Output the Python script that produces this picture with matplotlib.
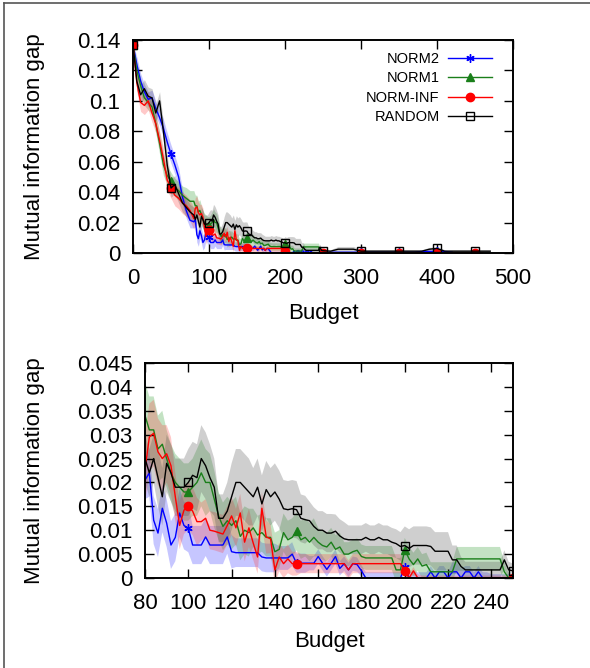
import numpy as np
import matplotlib
matplotlib.use("Agg")
import matplotlib.pyplot as plt
from matplotlib.lines import Line2D

plt.rcParams['font.family'] = ['Liberation Sans', 'DejaVu Sans']

# ---------------- data ----------------
budget_a = [0, 5, 10, 15, 20, 25, 30, 35, 40, 45, 50, 55, 60, 65, 70, 75]
budget_b = list(range(80, 251, 2))
budget_c = list(range(260, 471, 10))

# NORM2 (blue)
norm2_a = [0.137, 0.124, 0.113, 0.106, 0.101, 0.102, 0.095, 0.089, 0.082, 0.073, 0.065, 0.058, 0.050, 0.037, 0.028, 0.0215]
norm2_b = [0.0205, 0.022, 0.0121, 0.0094, 0.0146, 0.0115, 0.0069, 0.0085, 0.0136, 0.011,
           0.0104, 0.0069, 0.0069, 0.0069, 0.0086, 0.0069, 0.0069, 0.0069, 0.0069, 0.0086,
           0.0055, 0.0053, 0.0053, 0.0053, 0.0053, 0.0053, 0.0053, 0.0044, 0.0042, 0.0042,
           0.0042, 0.0042, 0.0042, 0.0042, 0.005, 0.0031, 0.0031, 0.0031, 0.0031, 0.0031,
           0.0045, 0.0031, 0.0018, 0.0031, 0.0045, 0.002, 0.003, 0.0017, 0.003, 0.0028,
           0.0015, 0.0, 0.0, 0.0, 0.0, 0.0, 0.0, 0.0, 0.0, 0.0,
           0.0023, 0.0, 0.0, 0.0, 0.0, 0.0, 0.0013, 0.0, 0.0013, 0.0013,
           0.0, 0.0013, 0.0013, 0.0, 0.0013, 0.0013, 0.0, 0.0013, 0.0, 0.0,
           0.0, 0.0, 0.0, 0.0, 0.0, 0.0]
norm2_c = [0.0005, 0.0005, 0.0005, 0.0005, 0.0005, 0.0005, 0.0005, 0.0005, 0.0005, 0.0005, 0.0005,
           0.0005, 0.001, 0.001, 0.001, 0.001, 0.0005, np.nan, np.nan, np.nan, np.nan, np.nan]
norm2_sd_a = [0.001, 0.005, 0.005, 0.005, 0.005, 0.005, 0.005, 0.005, 0.006, 0.006, 0.006, 0.006, 0.006, 0.005, 0.005, 0.005]
norm2_sd_b = [0.004, 0.005, 0.005, 0.005, 0.005, 0.005, 0.005, 0.005, 0.005, 0.005,
              0.005, 0.004, 0.004, 0.004, 0.004, 0.004, 0.004, 0.004, 0.004, 0.0035,
              0.0035, 0.003, 0.003, 0.003, 0.003, 0.003, 0.003, 0.003, 0.003, 0.003,
              0.003, 0.0025, 0.0025, 0.0025, 0.0025, 0.002, 0.002, 0.002, 0.0015, 0.0015,
              0.0015, 0.0015, 0.0015, 0.0015, 0.0015, 0.0015, 0.0015, 0.0015, 0.0015, 0.0015,
              0.0012, 0.0012, 0.0012, 0.0012, 0.0012, 0.0012, 0.0012, 0.0012, 0.0012, 0.0012,
              0.0012, 0.0012, 0.0012, 0.0012, 0.0012, 0.0012, 0.0012, 0.0012, 0.0012, 0.0012,
              0.0012, 0.002, 0.002, 0.002, 0.0012, 0.0012, 0.0012, 0.0012, 0.0012, 0.0012,
              0.0008, 0.0008, 0.0008, 0.0008, 0.0008, 0.0008]
norm2_sd_c = [0.0006] * 12 + [0.001, 0.001, 0.001, 0.001, 0.0006] + [np.nan] * 5

# NORM1 (green)
norm1_a = [0.137, 0.120, 0.110, 0.102, 0.099, 0.096, 0.085, 0.072, 0.058, 0.051, 0.047, 0.043, 0.041, 0.038, 0.036, 0.034]
norm1_b = [0.034, 0.031, 0.031, 0.027, 0.028, 0.025, 0.022, 0.020, 0.019, 0.018,
           0.018, 0.019, 0.020, 0.022, 0.020, 0.020, 0.0165, 0.013, 0.0108, 0.012,
           0.011, 0.012, 0.0087, 0.010, 0.0095, 0.0105, 0.009, 0.0095, 0.0085, 0.0085,
           0.0055, 0.006, 0.0095, 0.008, 0.0085, 0.0098, 0.008, 0.0085, 0.0075, 0.0085,
           0.0075, 0.0068, 0.0065, 0.0075, 0.006, 0.0065, 0.005, 0.005, 0.0055, 0.0058,
           0.0045, 0.0042, 0.0042, 0.0042, 0.0042, 0.0042, 0.0042, 0.0042, 0.0017, 0.0017,
           0.0059, 0.004, 0.0028, 0.004, 0.0025, 0.0028, 0.0013, 0.0013, 0.0013, 0.0013,
           0.0013, 0.0013, 0.004, 0.004, 0.004, 0.004, 0.004, 0.004, 0.004, 0.004,
           0.004, 0.004, 0.004, 0.0013, 0.0, 0.0]
norm1_c = [0.0] * 21 + [np.nan]
norm1_sd_a = [0.001, 0.005, 0.005, 0.005, 0.005, 0.005, 0.006, 0.007, 0.007, 0.006, 0.006, 0.006, 0.006, 0.006, 0.007, 0.007]
norm1_sd_b = [0.007, 0.007, 0.007, 0.007, 0.007, 0.006, 0.006, 0.006, 0.006, 0.006,
              0.006, 0.006, 0.007, 0.007, 0.007, 0.006, 0.006, 0.005, 0.005, 0.005,
              0.005, 0.005, 0.005, 0.005, 0.005, 0.004, 0.004, 0.004, 0.004, 0.004,
              0.004, 0.004, 0.004, 0.004, 0.004, 0.004, 0.004, 0.004, 0.004, 0.004,
              0.003, 0.003, 0.003, 0.003, 0.003, 0.003, 0.0025, 0.0025, 0.0025, 0.0025,
              0.0025, 0.0025, 0.0025, 0.0025, 0.0025, 0.0025, 0.0025, 0.0025, 0.0025, 0.0025,
              0.0025, 0.0025, 0.0025, 0.0025, 0.0025, 0.0025, 0.002, 0.002, 0.002, 0.002,
              0.002, 0.002, 0.0025, 0.0025, 0.0025, 0.0025, 0.0025, 0.0025, 0.0025, 0.0025,
              0.0025, 0.0025, 0.0025, 0.002, 0.001, 0.0005]
norm1_sd_c = [0.0005] * 21 + [np.nan]

# NORM-INF (red)
norminf_a = [0.137, 0.112, 0.099, 0.097, 0.100, 0.092, 0.085, 0.074, 0.062, 0.048, 0.043, 0.038, 0.036, 0.033, 0.031, 0.028]
norminf_b = [0.0226, 0.0295, 0.0303, 0.0264, 0.025, 0.026, 0.0235, 0.017, 0.011, 0.0142,
             0.0151, 0.014, 0.0118, 0.0118, 0.0125, 0.010, 0.0098, 0.0095, 0.0092, 0.011,
             0.013, 0.0105, 0.0136, 0.0075, 0.0105, 0.0073, 0.0044, 0.0146, 0.0086, 0.0082,
             0.0017, 0.0044, 0.003, 0.004, 0.003, 0.003, 0.003, 0.003, 0.003, 0.003,
             0.003, 0.003, 0.003, 0.003, 0.003, 0.003, 0.003, 0.0017, 0.003, 0.003,
             0.003, 0.003, 0.003, 0.003, 0.003, 0.003, 0.003, 0.003, 0.003, 0.003,
             0.0015, 0.0, 0.0015, 0.0, 0.0, 0.0, 0.0, 0.0, 0.0, 0.0,
             0.0, 0.0, 0.0, 0.0, 0.0, 0.0, 0.0, 0.0, 0.0, 0.0,
             0.0, 0.0, 0.0, 0.0, 0.0, 0.0]
norminf_c = [0.0] * 21 + [np.nan]
norminf_sd_a = [0.001, 0.006, 0.006, 0.006, 0.006, 0.006, 0.006, 0.006, 0.007, 0.007, 0.007, 0.007, 0.007, 0.007, 0.007, 0.007]
norminf_sd_b = [0.007, 0.007, 0.007, 0.007, 0.007, 0.006, 0.006, 0.005, 0.005, 0.005,
                0.005, 0.005, 0.005, 0.004, 0.004, 0.004, 0.004, 0.004, 0.004, 0.004,
                0.004, 0.004, 0.004, 0.004, 0.004, 0.0035, 0.0035, 0.0035, 0.0035, 0.003,
                0.003, 0.003, 0.003, 0.003, 0.0025, 0.0025, 0.002, 0.002, 0.002, 0.002,
                0.002, 0.002, 0.002, 0.002, 0.002, 0.002, 0.002, 0.002, 0.002, 0.002,
                0.002, 0.002, 0.002, 0.002, 0.002, 0.002, 0.002, 0.002, 0.002, 0.002,
                0.0012, 0.0008, 0.0008, 0.0008, 0.0005, 0.0005, 0.0005, 0.0005, 0.0005, 0.0005,
                0.0005, 0.0005, 0.0005, 0.0005, 0.0005, 0.0005, 0.0005, 0.0005, 0.0005, 0.0005,
                0.0005, 0.0005, 0.0005, 0.0005, 0.0005, 0.0005]
norminf_sd_c = [0.0005] * 21 + [np.nan]

# RANDOM (black)
random_a = [0.137, 0.113, 0.104, 0.108, 0.103, 0.102, 0.092, 0.100, 0.080, 0.058, 0.0427, 0.045, 0.039, 0.033, 0.030, 0.027]
random_b = [0.025, 0.022, 0.025, 0.021, 0.017, 0.024, 0.022, 0.019, 0.019, 0.019,
            0.020, 0.0215, 0.021, 0.025, 0.0235, 0.021, 0.019, 0.0125, 0.0125, 0.014,
            0.017, 0.020, 0.020, 0.019, 0.018, 0.017, 0.019, 0.0155, 0.0185, 0.017,
            0.018, 0.0165, 0.0145, 0.0143, 0.0145, 0.0143, 0.0125, 0.0122, 0.012, 0.0108,
            0.010, 0.010, 0.0094, 0.0094, 0.0098, 0.0088, 0.0082, 0.008, 0.008, 0.008,
            0.008, 0.0085, 0.008, 0.008, 0.0085, 0.008, 0.008, 0.0075, 0.0072, 0.0066,
            0.0068, 0.0062, 0.0068, 0.0068, 0.0068, 0.0068, 0.0066, 0.0056, 0.0056, 0.0056,
            0.0056, 0.0038, 0.0038, 0.0024, 0.0017, 0.0017, 0.0017, 0.0017, 0.0017, 0.0017,
            0.0017, 0.0017, 0.0017, 0.0038, 0.0017, 0.0015]
random_c = [0.0012, 0.0025, 0.0025, 0.0025, 0.0012, 0.0012, 0.0012, 0.0012, 0.0012, 0.0012, 0.0012,
            0.0012, 0.0012, 0.0025, 0.003, 0.0012, 0.0012, 0.0012, 0.0012, 0.0012, 0.0012, 0.0012]
random_sd_a = [0.001, 0.006, 0.006, 0.006, 0.006, 0.006, 0.006, 0.006, 0.006, 0.006, 0.006, 0.006, 0.006, 0.006, 0.006, 0.005]
random_sd_b = [0.005, 0.005, 0.005, 0.006, 0.006, 0.006, 0.006, 0.006, 0.006, 0.006,
               0.007, 0.007, 0.007, 0.007, 0.007, 0.007, 0.006, 0.005, 0.005, 0.006,
               0.007, 0.007, 0.007, 0.007, 0.007, 0.006, 0.006, 0.006, 0.006, 0.006,
               0.006, 0.006, 0.006, 0.006, 0.006, 0.006, 0.005, 0.005, 0.004, 0.004,
               0.004, 0.004, 0.004, 0.004, 0.0035, 0.0035, 0.0035, 0.003, 0.003, 0.003,
               0.003, 0.003, 0.003, 0.003, 0.003, 0.003, 0.003, 0.003, 0.003, 0.003,
               0.004, 0.004, 0.004, 0.004, 0.004, 0.004, 0.004, 0.004, 0.004, 0.004,
               0.004, 0.003, 0.003, 0.002, 0.0017, 0.0017, 0.0017, 0.0017, 0.0017, 0.0017,
               0.0017, 0.0017, 0.0017, 0.002, 0.0017, 0.0015]
random_sd_c = [0.001, 0.0018, 0.0018, 0.0018, 0.001, 0.001, 0.001, 0.001, 0.001, 0.001, 0.001,
               0.001, 0.001, 0.0012, 0.0012, 0.001, 0.001, 0.001, 0.001, 0.001, 0.001, 0.001]

labels = ["NORM2", "NORM1", "NORM-INF", "RANDOM"]
top_yticks = [0, 0.02, 0.04, 0.06, 0.08, 0.1, 0.12, 0.14]
top_yticklabels = ["0", "0.02", "0.04", "0.06", "0.08", "0.1", "0.12", "0.14"]
top_xticks = [0, 100, 200, 300, 400, 500]
bot_yticks = [0, 0.005, 0.01, 0.015, 0.02, 0.025, 0.03, 0.035, 0.04, 0.045]
bot_yticklabels = ["0", "0.005", "0.01", "0.015", "0.02", "0.025", "0.03", "0.035", "0.04", "0.045"]
bot_xticks = [80, 100, 120, 140, 160, 180, 200, 220, 240]

# ---------------- assemble ----------------
budget = np.array(budget_a + budget_b + budget_c, dtype=float)
series = [
    (np.array(norm2_a + norm2_b + norm2_c, float), np.array(norm2_sd_a + norm2_sd_b + norm2_sd_c, float)),
    (np.array(norm1_a + norm1_b + norm1_c, float), np.array(norm1_sd_a + norm1_sd_b + norm1_sd_c, float)),
    (np.array(norminf_a + norminf_b + norminf_c, float), np.array(norminf_sd_a + norminf_sd_b + norminf_sd_c, float)),
    (np.array(random_a + random_b + random_c, float), np.array(random_sd_a + random_sd_b + random_sd_c, float)),
]
colors = ["#0000ff", "#1a7f1a", "#ff0000", "#000000"]
band_colors = ["#3333ff", "#2a9a2a", "#ff4040", "#555555"]
markers = [(6, 2, 0), "^", "o", "s"]
mfc = ["#0000ff", "#1a7f1a", "#ff0000", "none"]
mark_idx = [i for i, b in enumerate(budget) if b % 50 == 0]

W, H = 590, 668
fig = plt.figure(figsize=(W / 100, H / 100), dpi=100)

def make_axes(l, r, t, b):
    return fig.add_axes([l / W, (H - b) / H, (r - l) / W, (b - t) / H])

ax1 = make_axes(133, 513, 40, 253)
ax2 = make_axes(145, 513, 363, 578)

FS = 16
for ax in (ax1, ax2):
    for (y, sd), c, bc, m, fc in zip(series, colors, band_colors, markers, mfc):
        ax.fill_between(budget, y - sd, y + sd, color=bc, alpha=0.28, linewidth=0)
    for (y, sd), c, m, fc, lab in zip(series, colors, markers, mfc, labels):
        ax.plot(budget, y, color=c, lw=1.0, marker=m, markevery=mark_idx,
                markersize=6, markerfacecolor=fc, markeredgecolor=c,
                markeredgewidth=1.0, label=lab)
    ax.tick_params(direction="in", top=True, right=True, length=6.5, width=1.0,
                   labelsize=FS)
    ax.tick_params(axis="y", pad=9)
    ax.tick_params(axis="x", pad=11)
    for s in ax.spines.values():
        s.set_linewidth(1.4)
    ax.set_xlabel("Budget", fontsize=FS)
    ax.set_ylabel("Mutual information gap", fontsize=FS)

ax1.set_xlim(0, 500)
ax1.set_ylim(0, 0.14)
ax1.set_xticks(top_xticks)
ax1.set_yticks(top_yticks)
ax1.set_yticklabels(top_yticklabels)
ax1.xaxis.set_label_coords(0.5, -0.235)
ax1.yaxis.set_label_coords(-0.232, 0.5)

ax2.set_xlim(80, 250)
ax2.set_ylim(0, 0.045)
ax2.set_xticks(bot_xticks)
ax2.set_yticks(bot_yticks)
ax2.set_yticklabels(bot_yticklabels)
ax2.xaxis.set_label_coords(0.5, -0.245)
ax2.yaxis.set_label_coords(-0.272, 0.5)

ax1.legend(loc="upper right", bbox_to_anchor=(0.945, 0.945), frameon=False,
           markerfirst=False, fontsize=10.5, handlelength=3.0, handletextpad=0.6,
           labelspacing=0.38, borderaxespad=0, borderpad=0)

# outer frame lines (top and left)
fig.add_artist(Line2D([4 / W, 1.0], [1 - 3 / H, 1 - 3 / H], color="#555555", lw=1.2))
fig.add_artist(Line2D([4 / W, 4 / W], [0.0, 1 - 3 / H], color="#555555", lw=1.2))

fig.savefig("out.png", dpi=100)
